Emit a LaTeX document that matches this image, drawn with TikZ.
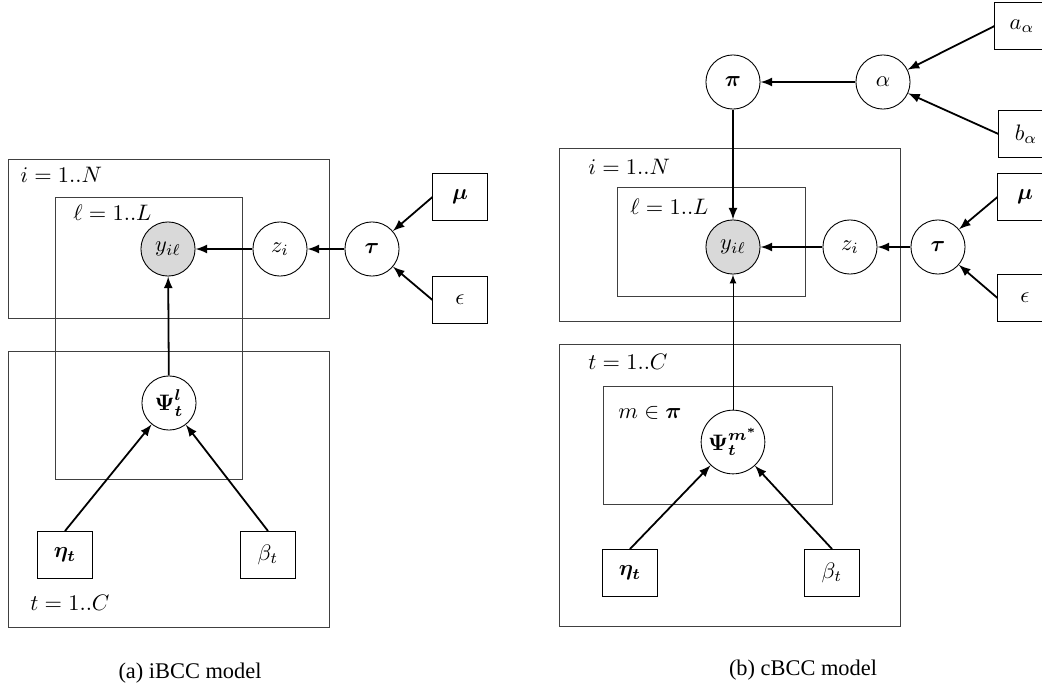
\documentclass[tikz,border=0pt]{standalone}
\usepackage{bm}
\usepackage{fontspec}
\newfontfamily\capfont{Liberation Serif}
\tikzset{
  var/.style={draw, circle, minimum size=0.85cm, inner sep=1pt},
  obs/.style={var, fill=gray!30},
  hyper/.style={draw, rectangle, minimum width=0.85cm, minimum height=0.74cm},
  plate/.style={draw, gray!50!black},
  platelabel/.style={anchor=west, inner sep=0pt},
  >=latex
}
\begin{document}
\begin{tikzpicture}[x=0.0157cm, y=-0.0157cm]
\useasboundingbox (0,0) rectangle (1042,687);
% (a) iBCC
\draw[plate] (8,159) rectangle (329,318);
\draw[plate] (55,197) rectangle (242,479);
\draw[plate] (8,351) rectangle (329,627);
\node[platelabel] (ia) at (20,175) {$i = 1..N$};
\node[platelabel] (la) at (73,213) {$\ell = 1..L$};
\node[platelabel] (ta) at (30,603) {$t = 1..C$};
\node[obs] (ya) at (168,249) {$y_{i\ell}$};
\node[var] (za) at (280,249) {$z_i$};
\node[var] (taua) at (372,249) {$\bm{\tau}$};
\node[hyper] (mua) at (460,197) {$\bm{\mu}$};
\node[hyper] (epsa) at (460,300) {$\epsilon$};
\node[var] (psia) at (169,403) {$\bm{\Psi_t^l}$};
\node[hyper] (etaa) at (65,555) {$\bm{\eta_t}$};
\node[hyper] (betaa) at (268,555) {$\beta_t$};
\path[draw,thick,->] (za) -- (ya);
\path[draw,thick,->] (taua) -- (za);
\path[draw,thick,->] (mua.west) -- (taua);
\path[draw,thick,->] (epsa.west) -- (taua);
\path[draw,thick,->] (psia) -- (ya);
\path[draw,thick,->] (etaa.north) -- (psia);
\path[draw,thick,->] (betaa.north) -- (psia);
\node (capa) at (190,673) {\capfont (a) iBCC model};
% (b) cBCC
\draw[plate] (559,148) rectangle (900,321);
\draw[plate] (617,187) rectangle (805,296);
\draw[plate] (559,344) rectangle (900,626);
\draw[plate] (603,386) rectangle (832,504);
\node[platelabel] (ib) at (588,167) {$i = 1..N$};
\node[platelabel] (lb) at (630,207) {$\ell = 1..L$};
\node[platelabel] (tb) at (588,362) {$t = 1..C$};
\node[platelabel] (mb) at (618,413) {$m \in \bm{\pi}$};
\node[var] (pib) at (733,82) {$\bm{\pi}$};
\node[var] (alphab) at (883,82) {$\alpha$};
\node[hyper] (ab) at (1022,26) {$a_\alpha$};
\node[hyper] (bb) at (1026,134) {$b_\alpha$};
\node[obs] (yb) at (733,247) {$y_{i\ell}$};
\node[var] (zb) at (850,247) {$z_i$};
\node[var] (taub) at (938,247) {$\bm{\tau}$};
\node[hyper] (mub) at (1025,197) {$\bm{\mu}$};
\node[hyper] (epsb) at (1025,298) {$\epsilon$};
\node[var, minimum size=1cm] (psib) at (733,442) {$\bm{\Psi_t^{m^*}}$};
\node[hyper] (etab) at (630,573) {$\bm{\eta_t}$};
\node[hyper] (betab) at (832,573) {$\beta_t$};
\path[draw,thick,->] (alphab) -- (pib);
\path[draw,thick,->] (ab.west) -- (alphab);
\path[draw,thick,->] (bb.west) -- (alphab);
\path[draw,thick,->] (pib) -- (yb);
\path[draw,thick,->] (zb) -- (yb);
\path[draw,thick,->] (taub) -- (zb);
\path[draw,thick,->] (mub.west) -- (taub);
\path[draw,thick,->] (epsb.west) -- (taub);
\path[draw,->] (psib) -- (yb);
\path[draw,thick,->] (etab.north) -- (psib);
\path[draw,thick,->] (betab.north) -- (psib);
\node (capb) at (803,670) {\capfont (b) cBCC model};
\end{tikzpicture}
\end{document}
